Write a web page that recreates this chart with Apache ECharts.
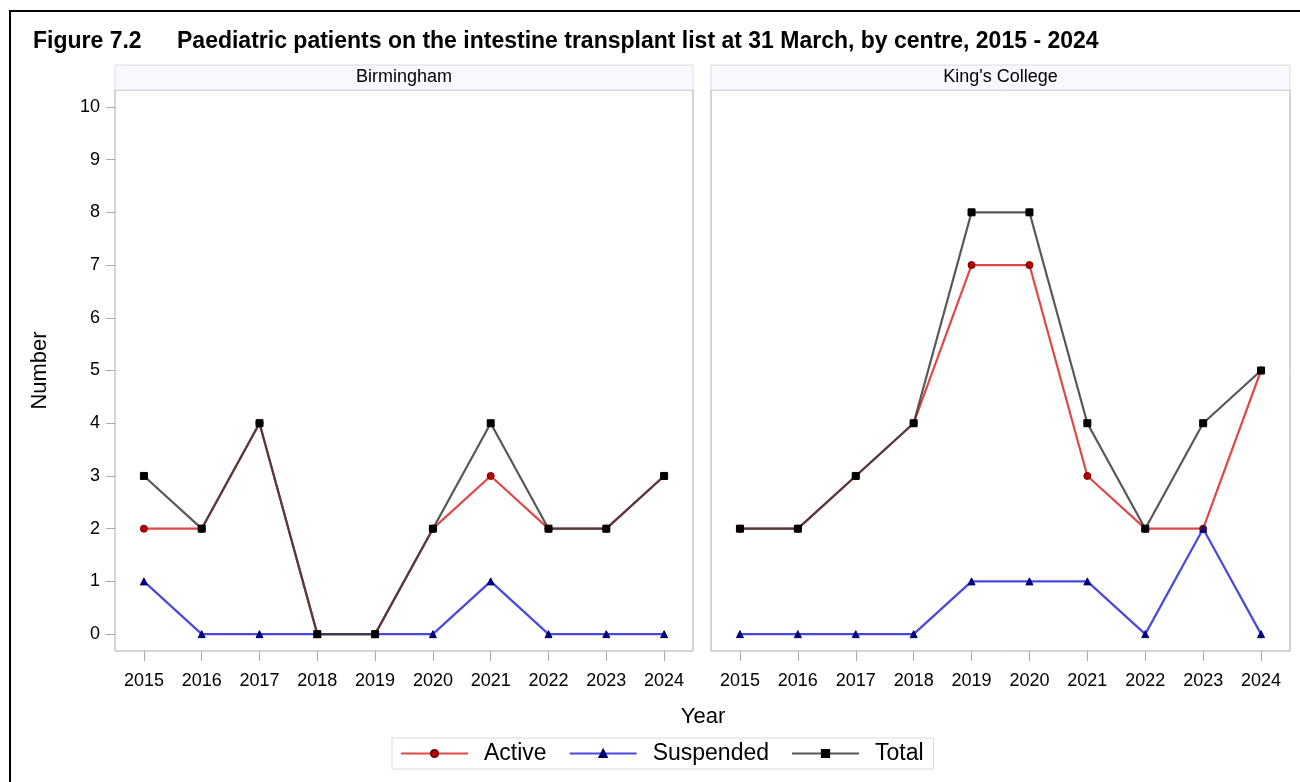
<!DOCTYPE html>
<html><head><meta charset="utf-8">
<script src="https://cdn.jsdelivr.net/npm/echarts@6/dist/echarts.min.js"></script>
<style>html,body{margin:0;padding:0;background:#fff}#c{width:1300px;height:782px}</style>
</head><body><div id="c"></div>
<script>
const years = ['2015','2016','2017','2018','2019','2020','2021','2022','2023','2024'];
const centres = ['Birmingham', "King's College"];
const yTicks = [0,1,2,3,4,5,6,7,8,9,10];
const birActive    = [2,2,4,0,0,2,3,2,2,3];
const birSuspended = [1,0,0,0,0,0,1,0,0,0];
const birTotal     = [3,2,4,0,0,2,4,2,2,3];
const kcActive     = [2,2,3,4,7,7,3,2,2,5];
const kcSuspended  = [0,0,0,0,1,1,1,0,2,0];
const kcTotal      = [2,2,3,4,8,8,4,2,4,5];

const FONT = 'Arial, "Liberation Sans", Helvetica, sans-serif';
const panels = [
  {left:115, width:578, data:[birActive, birSuspended, birTotal]},
  {left:711, width:579, data:[kcActive, kcSuspended, kcTotal]}
];
const TOP = 90, BOTTOM = 651;
const styles = [
  {name:'Active', line:'#e04848', mk:'#c00000', mkb:'#700000', sym:'circle', size:7},
  {name:'Suspended', line:'#4848e0', mk:'#000090', mkb:'#000060', sym:'triangle', size:7},
  {name:'Total', line:'#3a3a3a', mk:'#000000', mkb:'#000000', sym:'rect', size:7}
];

const grid = [], xAxis = [], yAxis = [], series = [], graphic = [];
panels.forEach((p, i) => {
  grid.push({left:p.left, width:p.width, top:TOP, height:BOTTOM-TOP, show:true,
    borderColor:'#a9a9a9', borderWidth:1, backgroundColor:'#fff'});
  xAxis.push({type:'category', gridIndex:i, data:years, boundaryGap:true, position:'bottom',
    axisLine:{show:false, onZero:false},
    axisTick:{show:true, alignWithLabel:true, length:10, inside:false, lineStyle:{color:'#a9a9a9'}},
    axisLabel:{color:'#000', fontSize:18, fontFamily:FONT, margin:21},
    splitLine:{show:false}});
  yAxis.push({type:'value', gridIndex:i, min:-0.32, max:10.32,
    axisLine:{show:false},
    axisTick:{show:i===0, length:9, customValues:yTicks, lineStyle:{color:'#a9a9a9'}},
    axisLabel:{show:i===0, customValues:yTicks, color:'#000', fontSize:18, fontFamily:FONT, margin:15},
    splitLine:{show:false},
    name: i===0 ? 'Number' : '', nameLocation:'middle', nameGap:64, nameRotate:90,
    nameTextStyle:{color:'#000', fontSize:22, fontFamily:FONT}});
  styles.forEach((s, k) => {
    series.push({name:s.name, type:'line', xAxisIndex:i, yAxisIndex:i, data:p.data[k],
      symbol:s.sym, symbolSize:s.size, showAllSymbol:true,
      lineStyle:{color:s.line, width:2.2, opacity: k===2 ? 0.85 : 1},
      itemStyle:{color:s.mk, borderColor:s.mkb, borderWidth:1},
      emphasis:{disabled:true}, animation:false, z: 2+k});
  });
  graphic.push({type:'rect', shape:{x:p.left, y:65, width:p.width, height:25},
    style:{fill:'#f8f9fe', stroke:'#dcdcdc', lineWidth:1}, z:10});
  graphic.push({type:'text', x:p.left + p.width/2, y:77.5,
    style:{text:centres[i], fill:'#000', font:'18px ' + FONT, textAlign:'center', textVerticalAlign:'middle'}, z:11});
});
graphic.push({type:'line', shape:{x1:10, y1:11, x2:1300, y2:11}, style:{stroke:'#000', lineWidth:2}, z:20});
graphic.push({type:'line', shape:{x1:10, y1:10, x2:10, y2:782}, style:{stroke:'#000', lineWidth:2}, z:20});
graphic.push({type:'text', x:33, y:42, style:{text:'Figure 7.2', fill:'#000', font:'bold 23px ' + FONT, textVerticalAlign:'middle'}, z:20});
graphic.push({type:'text', x:177, y:42, style:{text:'Paediatric patients on the intestine transplant list at 31 March, by centre, 2015 - 2024', fill:'#000', font:'bold 23px ' + FONT, textVerticalAlign:'middle'}, z:20});
graphic.push({type:'text', x:703, y:717, style:{text:'Year', fill:'#000', font:'22px ' + FONT, textAlign:'center', textVerticalAlign:'middle'}, z:20});

const chart = echarts.init(document.getElementById('c'), null, {renderer:'canvas'});
chart.setOption({
  backgroundColor:'#fff',
  animation:false,
  grid, xAxis, yAxis, series, graphic,
  legend:{data:styles.map(s=>s.name), left:392, top:738, orient:'horizontal',
    itemWidth:67, itemHeight:9, itemGap:22,
    borderColor:'#d9d9d9', borderWidth:1, padding:[4,10,4,8],
    textStyle:{color:'#000', fontSize:23, fontFamily:FONT, padding:[0,0,0,11]},
    selectedMode:false}
});
</script></body></html>
